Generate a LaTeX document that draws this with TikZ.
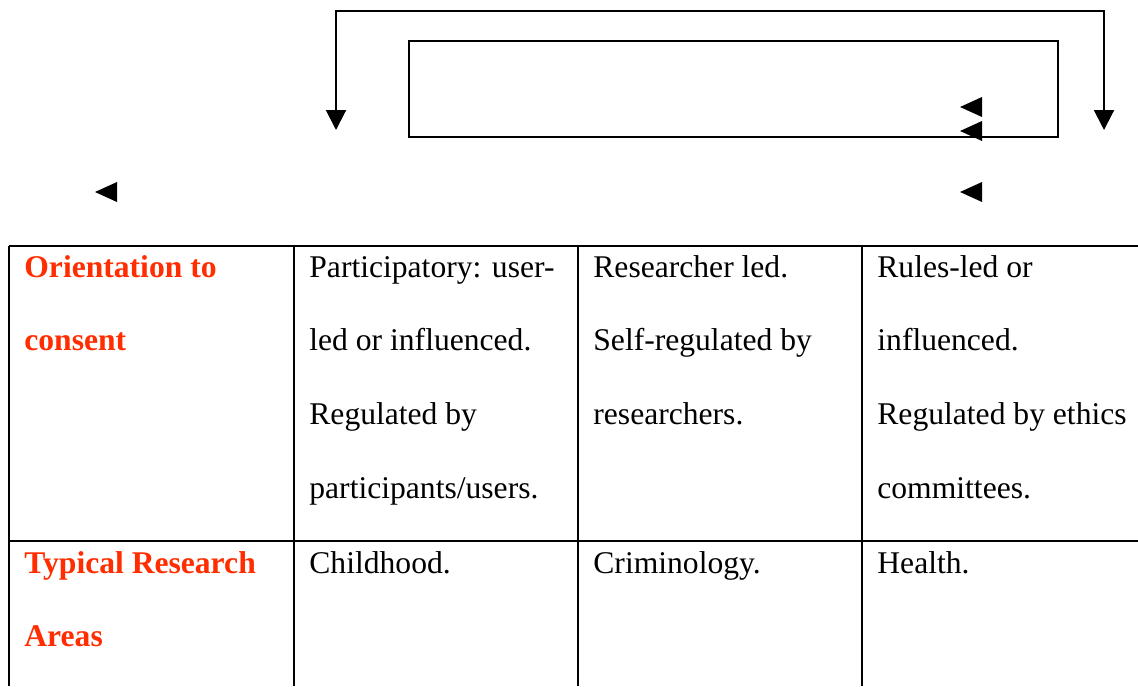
\documentclass[tikz,border=0pt]{standalone}
\usepackage{fontspec}
\setmainfont{Liberation Serif}
\usetikzlibrary{positioning,arrows.meta}
\definecolor{headred}{RGB}{255,45,0}

\begin{document}
\begin{tikzpicture}[x=0.5pt,y=-0.5pt,>={Triangle[width=10pt,length=10pt]},
  cell/.style={anchor=base west,align=left,inner sep=0pt,font=\fontsize{15.8}{36.85}\selectfont},
  head/.style={cell,text=headred,font=\bfseries\fontsize{15.8}{36.85}\selectfont},
  rule/.style={line width=1.3pt}]
\useasboundingbox (0,0) rectangle (1138,686);
% loop above the table
\node[draw,line width=1pt,minimum width=324.5pt,minimum height=48pt,inner sep=0pt,anchor=north west] (box) at (408,40) {};
\coordinate (loopL) at (336,130);
\coordinate (loopR) at (1104,130);
\draw[line width=1pt,<->] (loopL) -- ++(0,-119) -| (loopR);
\foreach \x/\y in {960/107,960/131,960/192,95/192}
  \fill (\x,\y) -- ++(22,-10) -- ++(0,20) -- cycle;
% table (cells placed at the baseline of their last line)
\draw[rule] (9,246) -- (1138,246) (9,541) -- (1138,541);
\foreach \x in {9,294,578,862} \draw[rule] (\x,246) -- (\x,686);
\node[head] (orient) at (24,350.7) {Orientation to\\consent};
\node[cell] (partic) at (309,498.1) {Participatory: user-\\led or influenced.\\Regulated by\\participants/users.};
\node[cell] (resled) at (593,424.4) {Researcher led.\\Self-regulated by\\researchers.};
\node[cell] (rules) at (877,498.1) {Rules-led or\\influenced.\\Regulated by ethics\\committees.};
\node[head] (areas) at (24,646.7) {Typical Research\\Areas};
\node[cell] (child) at (309,573) {Childhood.};
\node[cell] (crim) at (593,573) {Criminology.};
\node[cell] (health) at (877,573) {Health.};
\end{tikzpicture}
\end{document}
